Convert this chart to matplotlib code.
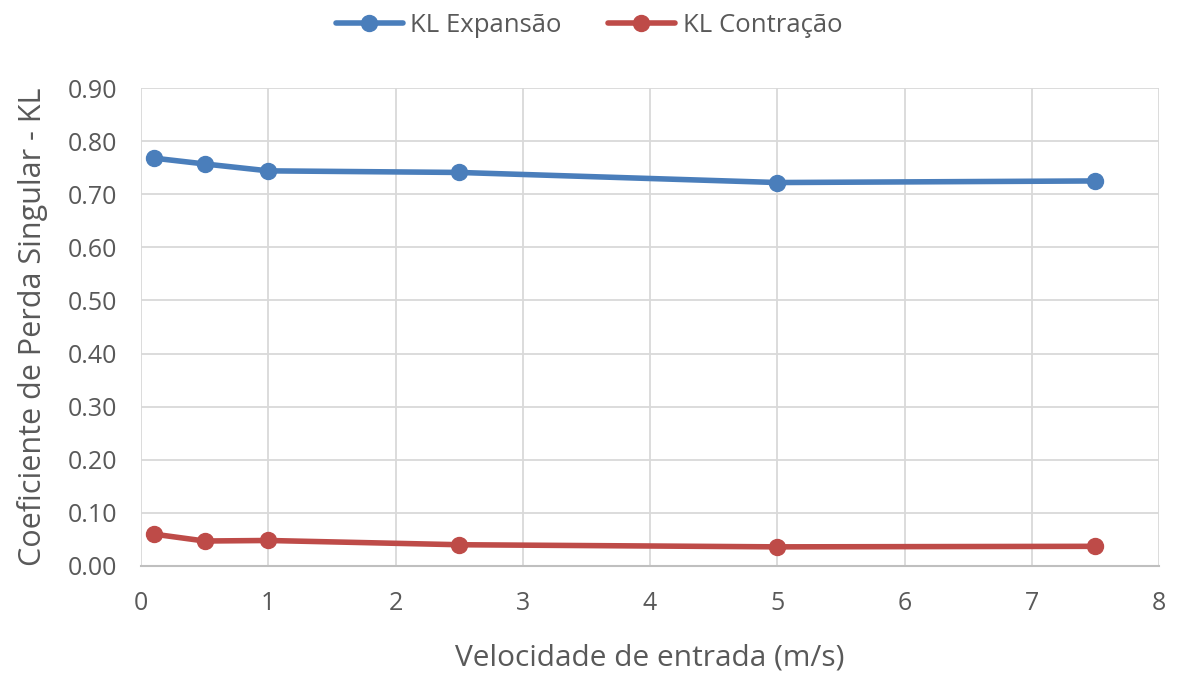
import matplotlib
matplotlib.use("Agg")
import matplotlib.pyplot as plt

velocidade = [0.1, 0.5, 1.0, 2.5, 5.0, 7.5]
kl_expansao = [0.768, 0.757, 0.744, 0.741, 0.722, 0.725]
kl_contracao = [0.060, 0.047, 0.048, 0.040, 0.036, 0.037]
y_ticks = [0.0, 0.1, 0.2, 0.3, 0.4, 0.5, 0.6, 0.7, 0.8, 0.9]
x_ticks = [0, 1, 2, 3, 4, 5, 6, 7, 8]

plt.rcParams['font.family'] = ['Open Sans', 'DejaVu Sans']
txt = '#595959'

fig = plt.figure(figsize=(11.78, 6.77), dpi=100)
ax = fig.add_axes([0.1197, 0.164, 0.8642, 0.706])

ax.plot(velocidade, kl_expansao, color='#4A7EBB', lw=4, marker='o', ms=11.5,
        label='KL Expansão', solid_capstyle='round', zorder=3)
ax.plot(velocidade, kl_contracao, color='#BE4B48', lw=4, marker='o', ms=11.5,
        label='KL Contração', solid_capstyle='round', zorder=3)

ax.set_xlim(0, 8)
ax.set_ylim(0, 0.9)
ax.set_xticks(x_ticks)
ax.set_yticks(y_ticks)
ax.set_yticklabels([f'{v:.2f}' for v in y_ticks])
ax.grid(True, color='#D9D9D9', lw=1.3)
ax.set_axisbelow(True)
for s in ['top', 'right', 'left']:
    ax.spines[s].set_visible(False)
ax.spines['bottom'].set_color('#BFBFBF')
ax.spines['bottom'].set_linewidth(1.5)
ax.tick_params(length=0, labelsize=18, colors=txt)
ax.tick_params(axis='x', pad=18)
ax.tick_params(axis='y', pad=17)

ax.set_xlabel('Velocidade de entrada (m/s)', fontsize=21.5, color=txt, labelpad=20)
ax.set_ylabel('Coeficiente de Perda Singular - KL', fontsize=22, color=txt, labelpad=14)

leg = fig.legend(loc='upper center', bbox_to_anchor=(0.5, 1.015), ncol=2, frameon=False,
                 fontsize=18.5, labelcolor=txt, handlelength=2.6, columnspacing=1.8,
                 handletextpad=0.3)

fig.savefig('out.png', dpi=100)
